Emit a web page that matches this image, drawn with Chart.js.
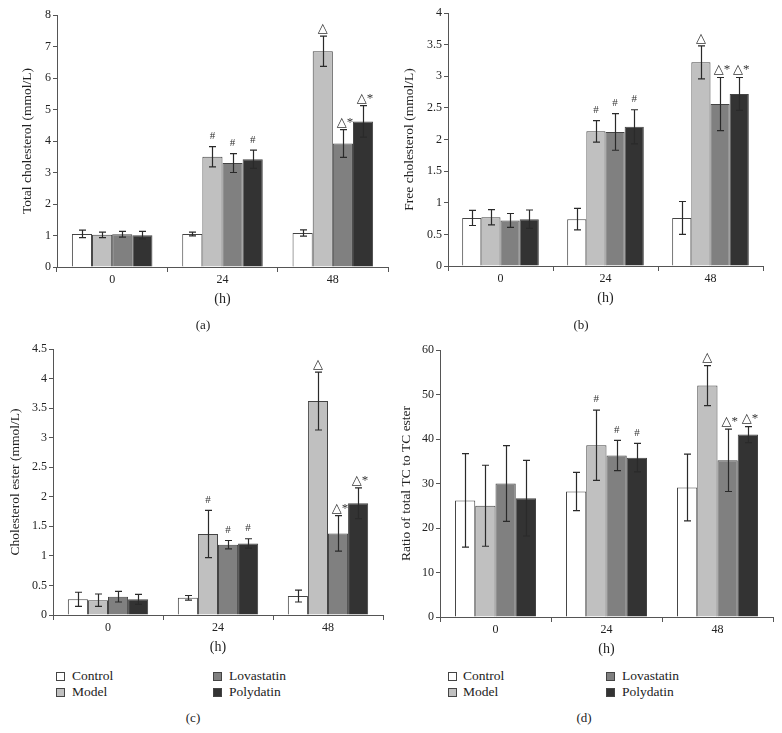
<!DOCTYPE html>
<html>
<head>
<meta charset="utf-8">
<script src="https://cdn.jsdelivr.net/npm/chart.js@4.4.0/dist/chart.umd.min.js"></script>
<style>
  body { margin: 0; background: #fff; width: 782px; height: 733px; position: relative; overflow: hidden;
         font-family: 'Liberation Serif', 'DejaVu Serif', serif; color: #222; }
  canvas { position: absolute; }
  .cap { position: absolute; font-size: 13px; transform: translate(-50%, -50%); }
  .item { position: absolute; font-size: 13.5px; white-space: nowrap; transform: translateY(-50%); }
  .box { position: absolute; width: 7px; height: 7px; border: 1px solid #444; }
</style>
</head>
<body>
<canvas id="pa"></canvas>
<canvas id="pb"></canvas>
<canvas id="pc"></canvas>
<canvas id="pd"></canvas>
<script>
// 横轴 / 分组
var hours = ['0', '24', '48'];
var groups = ['Control', 'Model', 'Lovastatin', 'Polydatin'];
var colors = ['#ffffff', '#c0c0c0', '#808080', '#333333'];

// (a) Total cholesterol: mean, SD per group over 0/24/48 h
var tcMean = [[1.05, 1.05, 1.08], [1.02, 3.50, 6.85], [1.04, 3.30, 3.92], [1.01, 3.42, 4.62]];
var tcErr  = [[0.12, 0.06, 0.10], [0.09, 0.32, 0.48], [0.09, 0.30, 0.44], [0.12, 0.29, 0.50]];
var tcMark = [['', '', ''], ['', '#', '△'], ['', '#', '△*'], ['', '#', '△*']];

// (b) Free cholesterol
var fcMean = [[0.76, 0.74, 0.76], [0.77, 2.13, 3.22], [0.72, 2.12, 2.56], [0.74, 2.20, 2.72]];
var fcErr  = [[0.12, 0.17, 0.26], [0.12, 0.17, 0.26], [0.11, 0.29, 0.42], [0.145, 0.27, 0.26]];
var fcMark = [['', '', ''], ['', '#', '△'], ['', '#', '△*'], ['', '#', '△*']];

// (c) Cholesterol ester
var ceMean = [[0.265, 0.29, 0.32], [0.25, 1.37, 3.62], [0.31, 1.19, 1.38], [0.265, 1.21, 1.89]];
var ceErr  = [[0.12, 0.04, 0.10], [0.105, 0.40, 0.49], [0.09, 0.07, 0.30], [0.085, 0.08, 0.26]];
var ceMark = [['', '', ''], ['', '#', '△'], ['', '#', '△*'], ['', '#', '△*']];

// (d) Ratio of total TC to TC ester
var rtMean = [[26.2, 28.2, 29.1], [25.0, 38.6, 52.0], [30.0, 36.3, 35.2], [26.7, 35.8, 41.0]];
var rtErr  = [[10.5, 4.3, 7.5], [9.1, 7.9, 4.5], [8.5, 3.4, 7.0], [8.5, 3.2, 1.8]];
var rtMark = [['', '', ''], ['', '#', '△'], ['', '#', '△*'], ['', '#', '△*']];

var FONT = "'Liberation Serif', 'DejaVu Serif', serif";
var AXIS = '#555';
var INK = '#222';
var TITLE_SIZE = 13.5;

// 误差线 + 标记
var errorBars = {
    id: 'errorBars',
    afterDatasetsDraw: function(chart) {
        var ctx = chart.ctx, y = chart.scales.y;
        ctx.save();
        ctx.strokeStyle = '#2a2a2a';
        ctx.lineWidth = 1.2;
        ctx.fillStyle = '#333';
        ctx.textAlign = 'center';
        ctx.textBaseline = 'bottom';
        chart.data.datasets.forEach(function(ds, i) {
            chart.getDatasetMeta(i).data.forEach(function(bar, j) {
                var v = ds.data[j], e = ds.errors[j];
                var top = y.getPixelForValue(v + e), bot = y.getPixelForValue(v - e);
                var x = Math.round(bar.x) + 0.5;
                ctx.beginPath();
                ctx.moveTo(x, top); ctx.lineTo(x, bot);
                ctx.moveTo(x - 3.5, top); ctx.lineTo(x + 3.5, top);
                ctx.moveTo(x - 3.5, bot); ctx.lineTo(x + 3.5, bot);
                ctx.stroke();
                var m = ds.marks[j];
                if (m === '#') {
                    ctx.font = "11px 'Liberation Serif', 'DejaVu Sans', serif";
                    ctx.fillText(m, bar.x, top - 5);
                } else if (m) {
                    ctx.font = "13px 'Liberation Serif', 'DejaVu Sans', serif";
                    ctx.fillText(m, bar.x + (m.length > 1 ? 2 : 0), top - 1);
                }
            });
        });
        ctx.restore();
    }
};

// 生成一个面板
function makePanel(id, box, yTitle, yMax, yStep, means, errs, marks) {
    var cv = document.getElementById(id);
    var h = box.plotBottom - box.top + 43;
    cv.width = 391; cv.height = h;
    cv.style.left = box.left + 'px'; cv.style.top = box.top + 'px';
    var padLeft = box.titleX - box.left - TITLE_SIZE * 0.6;
    var yWidth = box.axisX - box.left - padLeft;
    new Chart(cv.getContext('2d'), {
        type: 'bar',
        data: {
            labels: hours,
            datasets: groups.map(function(g, i) {
                return {
                    label: g,
                    data: means[i],
                    errors: errs[i],
                    marks: marks[i],
                    backgroundColor: colors[i],
                    borderColor: '#444',
                    borderWidth: 1,
                    barPercentage: 1,
                    categoryPercentage: 0.73
                };
            })
        },
        options: {
            responsive: false,
            animation: false,
            layout: { padding: { left: padLeft, right: box.left + 391 - box.plotRight, top: box.plotTop - box.top, bottom: 2 } },
            plugins: { legend: { display: false }, tooltip: { enabled: false } },
            scales: {
                x: {
                    grid: { offset: true, drawOnChartArea: false, tickLength: 5, color: AXIS },
                    border: { color: AXIS },
                    ticks: { color: INK, font: { family: FONT, size: 12 }, padding: 1 },
                    title: { display: true, text: '(h)', color: INK, font: { family: FONT, size: 14 }, padding: 0 },
                    afterFit: function(s) { s.height = 41; }
                },
                y: {
                    min: 0, max: yMax,
                    grid: { drawOnChartArea: false, tickLength: 4, color: AXIS },
                    border: { color: AXIS },
                    ticks: {
                        stepSize: yStep, color: INK, font: { family: FONT, size: 12 }, padding: 2,
                        callback: function(v) { return String(Math.round(v * 100) / 100); }
                    },
                    title: { display: true, text: yTitle, color: INK, font: { family: FONT, size: TITLE_SIZE }, padding: 0 },
                    afterFit: function(s) { s.width = yWidth; }
                }
            }
        },
        plugins: [errorBars]
    });
}

makePanel('pa', { left: 0, top: 0, plotTop: 15, plotBottom: 267, axisX: 57, plotRight: 388, titleX: 27 },
    'Total cholesterol (mmol/L)', 8, 1, tcMean, tcErr, tcMark);
makePanel('pb', { left: 391, top: 0, plotTop: 13, plotBottom: 266, axisX: 448, plotRight: 763, titleX: 409 },
    'Free cholesterol (mmol/L)', 4, 0.5, fcMean, fcErr, fcMark);
makePanel('pc', { left: 0, top: 330, plotTop: 349, plotBottom: 615, axisX: 53, plotRight: 383, titleX: 15 },
    'Cholesterol ester (mmol/L)', 4.5, 0.5, ceMean, ceErr, ceMark);
makePanel('pd', { left: 391, top: 330, plotTop: 350, plotBottom: 617, axisX: 440, plotRight: 773, titleX: 406 },
    'Ratio of total TC to TC ester', 60, 10, rtMean, rtErr, rtMark);

// 图注 (a)-(d)
function caption(text, x, y) {
    var d = document.createElement('div');
    d.className = 'cap'; d.textContent = text;
    d.style.left = x + 'px'; d.style.top = y + 'px';
    document.body.appendChild(d);
}
caption('(a)', 203, 325);
caption('(b)', 581, 325);
caption('(c)', 193, 718);
caption('(d)', 584, 718);

// 图例: 两列 (Control/Model | Lovastatin/Polydatin)
function legend(boxX, textX, col2BoxX, col2TextX, rowY) {
    groups.forEach(function(g, i) {
        var col = i < 2 ? 0 : 1, row = i % 2;
        var y = rowY[row];
        var b = document.createElement('div');
        b.className = 'box';
        b.style.left = (col ? col2BoxX : boxX) + 'px';
        b.style.top = (y - 4) + 'px';
        b.style.background = colors[i];
        document.body.appendChild(b);
        var t = document.createElement('div');
        t.className = 'item'; t.textContent = g;
        t.style.left = (col ? col2TextX : textX) + 'px';
        t.style.top = y + 'px';
        document.body.appendChild(t);
    });
}
legend(56, 72, 213, 229, [676, 692]);
legend(448, 463, 606, 622, [676, 692]);
</script>
</body>
</html>
